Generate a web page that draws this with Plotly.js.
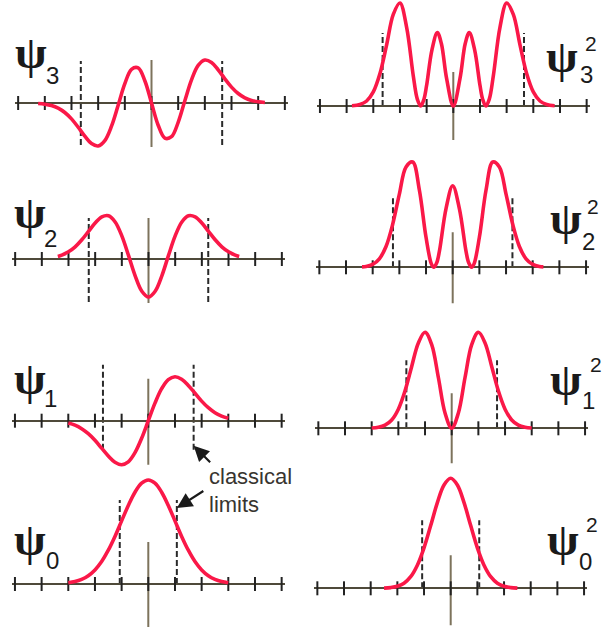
<!DOCTYPE html>
<html>
<head>
<meta charset="utf-8">
<script src="https://cdn.plot.ly/plotly-3.0.1.min.js"></script>
<style>html,body{margin:0;padding:0;background:#fff;}#chart{width:602px;height:632px;}</style>
</head>
<body>
<div id="chart"></div>
<script>
// ---------------- DATA ----------------
const TICKS = [-5, -4, -3, -2, -1, 0, 1, 2, 3, 4, 5];
const CLASSICAL_LIMITS = [1.07, 1.7, 2.24, 2.65]; // n = 0,1,2,3

const X_PSI0 = [-3,-2.75,-2.5,-2.25,-2,-1.75,-1.5,-1.25,-1,-0.75,-0.5,-0.25,0,0.25,0.5,0.75,1,1.25,1.5,1.75,2,2.25,2.5,2.75,3];
const PSI0 = [0.012,0.024,0.046,0.083,0.141,0.225,0.338,0.476,0.631,0.785,0.918,1.008,1.04,1.008,0.918,0.785,0.631,0.476,0.338,0.225,0.141,0.083,0.046,0.024,0.012];

const X_PSI1 = [-3,-2.75,-2.5,-2.25,-2,-1.75,-1.5,-1.25,-1,-0.75,-0.5,-0.25,0,0.25,0.5,0.75,1,1.25,1.5,1.75,2,2.25,2.5,2.75,3];
const PSI1 = [-0.024,-0.045,-0.080,-0.130,-0.196,-0.275,-0.353,-0.415,-0.440,-0.411,-0.320,-0.176,0,0.176,0.320,0.411,0.440,0.415,0.353,0.275,0.196,0.130,0.080,0.045,0.024];

const X_PSI2 = [-3.4,-3.25,-3,-2.75,-2.5,-2.25,-2,-1.75,-1.5,-1.25,-1,-0.75,-0.5,-0.25,0,0.25,0.5,0.75,1,1.25,1.5,1.75,2,2.25,2.5,2.75,3,3.25,3.4];
const PSI2 = [0.026,0.039,0.072,0.122,0.192,0.276,0.360,0.421,0.432,0.370,0.231,0.036,-0.168,-0.322,-0.380,-0.322,-0.168,0.036,0.231,0.370,0.432,0.421,0.360,0.276,0.192,0.122,0.072,0.039,0.026];

const X_PSI3 = [-4.25,-4,-3.75,-3.5,-3.25,-3,-2.75,-2.5,-2.25,-2,-1.75,-1.5,-1.25,-1,-0.75,-0.5,-0.25,0,0.25,0.5,0.75,1,1.25,1.5,1.75,2,2.25,2.5,2.75,3,3.25,3.5,3.75,4,4.25];
const PSI3 = [-0.005,-0.012,-0.026,-0.052,-0.095,-0.159,-0.242,-0.332,-0.406,-0.430,-0.376,-0.232,-0.023,0.193,0.337,0.351,0.222,0,-0.222,-0.351,-0.337,-0.193,0.023,0.232,0.376,0.430,0.406,0.332,0.242,0.159,0.095,0.052,0.026,0.012,0.005];

const X_PSI0SQ = [-2.5,-2.25,-2,-1.75,-1.5,-1.25,-1,-0.75,-0.5,-0.25,0,0.25,0.5,0.75,1,1.25,1.5,1.75,2,2.25,2.5];
const PSI0SQ = [0.002,0.007,0.020,0.051,0.116,0.231,0.405,0.627,0.857,1.033,1.10,1.033,0.857,0.627,0.405,0.231,0.116,0.051,0.020,0.007,0.002];

const X_PSI1SQ = [-3,-2.75,-2.5,-2.25,-2,-1.75,-1.5,-1.25,-1,-0.75,-0.5,-0.25,0,0.25,0.5,0.75,1,1.25,1.5,1.75,2,2.25,2.5,2.75,3];
const PSI1SQ = [0.003,0.010,0.031,0.083,0.191,0.374,0.619,0.854,0.960,0.836,0.508,0.153,0,0.153,0.508,0.836,0.960,0.854,0.619,0.374,0.191,0.083,0.031,0.010,0.003];

const X_PSI2SQ = [-3.4,-3.25,-3,-2.75,-2.5,-2.25,-2,-1.75,-1.5,-1.25,-1,-0.8,-0.71,-0.6,-0.5,-0.25,0,0.25,0.5,0.6,0.71,0.8,1,1.25,1.5,1.75,2,2.25,2.5,2.75,3,3.25,3.4];
const PSI2SQ = [0.004,0.008,0.029,0.085,0.208,0.430,0.732,1.004,1.053,0.773,0.300,0.034,0,0.045,0.159,0.587,0.816,0.587,0.159,0.045,0,0.034,0.300,0.773,1.053,1.004,0.732,0.430,0.208,0.085,0.029,0.008,0.004];

const X_PSI3SQ = [-3.8,-3.5,-3.25,-3,-2.75,-2.5,-2.25,-2,-1.75,-1.5,-1.35,-1.22,-1.1,-1,-0.8,-0.6,-0.45,-0.25,0,0.25,0.45,0.6,0.8,1,1.1,1.22,1.35,1.5,1.75,2,2.25,2.5,2.75,3,3.25,3.5,3.8];
const PSI3SQ = [0.003,0.015,0.050,0.141,0.325,0.612,0.916,1.030,0.787,0.300,0.069,0,0.068,0.207,0.562,0.734,0.627,0.273,0,0.273,0.627,0.734,0.562,0.207,0.068,0,0.069,0.300,0.787,1.030,0.916,0.612,0.325,0.141,0.050,0.015,0.003];

const SUB_LABELS = ['0', '1', '2', '3'];
const SUP_LABEL = '2';
const NOTE_LINES = ['classical', 'limits'];

// ---------------- LAYOUT / STYLE ----------------
const W = 602, H = 632, XS = 26.67, YS = 100;
const RED = '#fa1848', AXIS = '#4f4a3a', VLINE = '#7d735c', TICK = '#222222', DASH = '#2a2a2a';

// panel geometry (pixel centre of x=0, pixel row of y=0)
const panels = [
  {n:3, sq:false, x:X_PSI3,   y:PSI3,   cx:151.5, ay:103,   yr:[-0.47,0.47], vl:[-0.44,0.43], dl:[-0.42,0.42]},
  {n:2, sq:false, x:X_PSI2,   y:PSI2,   cx:148.5, ay:259,   yr:[-0.47,0.47], vl:[-0.44,0.41], dl:[-0.43,0.41]},
  {n:1, sq:false, x:X_PSI1,   y:PSI1,   cx:148.3, ay:420.7, yr:[-0.47,0.60], vl:[-0.44,0.42], dl:[-0.29,0.56]},
  {n:0, sq:false, x:X_PSI0,   y:PSI0,   cx:148.3, ay:584,   yr:[-0.46,1.08], vl:[-0.43,0.42], dl:[0,0.84]},
  {n:3, sq:true,  x:X_PSI3SQ, y:PSI3SQ, cx:453.3, ay:106,   yr:[-0.38,1.06], vl:[-0.34,0.34], dl:[0,0.73]},
  {n:2, sq:true,  x:X_PSI2SQ, y:PSI2SQ, cx:452.7, ay:267.3, yr:[-0.38,1.09], vl:[-0.36,0.35], dl:[0,0.70]},
  {n:1, sq:true,  x:X_PSI1SQ, y:PSI1SQ, cx:451.7, ay:428.3, yr:[-0.38,1.00], vl:[-0.35,0.35], dl:[0,0.68]},
  {n:0, sq:true,  x:X_PSI0SQ, y:PSI0SQ, cx:450.7, ay:588.3, yr:[-0.40,1.13], vl:[-0.37,0.33], dl:[0,0.68]}
];

// label positions (pixels)
const labelPos = [
  {psi:[31,52],  sub:[53,76]},
  {psi:[30,212], sub:[50,238]},
  {psi:[30,378], sub:[50,398]},
  {psi:[30,539], sub:[52,560]},
  {psi:[562,56], sub:[586,75], sup:[591,43]},
  {psi:[566,218],sub:[588,241],sup:[593,207]},
  {psi:[566,379],sub:[588,400],sup:[596,364]},
  {psi:[563,539],sub:[585,561],sup:[592,524]}
];

const traces = [], shapes = [], annotations = [];
const layout = {
  width: W, height: H, margin: {l:0, r:0, t:0, b:0},
  paper_bgcolor: '#ffffff', plot_bgcolor: 'rgba(0,0,0,0)',
  showlegend: false, shapes: shapes, annotations: annotations
};
const px = v => v / W, py = v => 1 - v / H;

panels.forEach((p, i) => {
  const k = i + 1;
  const xa = 'x' + (k === 1 ? '' : k), ya = 'y' + (k === 1 ? '' : k);
  const xname = 'xaxis' + (k === 1 ? '' : k), yname = 'yaxis' + (k === 1 ? '' : k);
  const half = 5.12;
  layout[xname] = {
    domain: [px(p.cx - half * XS), px(p.cx + half * XS)], range: [-half, half],
    anchor: ya, showgrid: false, zeroline: false, showline: false, showticklabels: false, ticks: '', fixedrange: true
  };
  layout[yname] = {
    domain: [py(p.ay - p.yr[0] * YS), py(p.ay - p.yr[1] * YS)], range: p.yr,
    anchor: xa, showgrid: false, zeroline: true, zerolinecolor: AXIS, zerolinewidth: 2,
    showline: false, showticklabels: false, ticks: '', fixedrange: true
  };
  // vertical axis at x = 0
  shapes.push({type:'line', xref:xa, yref:ya, x0:0, x1:0, y0:p.vl[0], y1:p.vl[1],
               line:{color:VLINE, width:2}, layer:'below'});
  // classical limits
  const L = CLASSICAL_LIMITS[p.n];
  [-L, L].forEach(xv => shapes.push({type:'line', xref:xa, yref:ya, x0:xv, x1:xv, y0:p.dl[0], y1:p.dl[1],
               line:{color:DASH, width:2, dash:'6px,3px'}, layer:'below'}));
  // tick marks
  traces.push({type:'scatter', mode:'markers', x:TICKS, y:TICKS.map(() => 0), xaxis:xa, yaxis:ya,
               marker:{symbol:'line-ns', size:10, line:{width:2, color:TICK}}, hoverinfo:'skip', cliponaxis:false});
  // curve
  traces.push({type:'scatter', mode:'lines', x:p.x, y:p.y, xaxis:xa, yaxis:ya,
               line:{color:RED, width:3.6, shape:'spline', smoothing:1}, hoverinfo:'skip'});

  // labels
  const lp = labelPos[i];
  annotations.push({xref:'paper', yref:'paper', x:px(lp.psi[0]), y:py(lp.psi[1]), xanchor:'center', yanchor:'middle',
    text:'<b>ψ</b>', showarrow:false, font:{family:'Liberation Serif, DejaVu Serif, serif', size:46, color:'#1a1a1a'}});
  annotations.push({xref:'paper', yref:'paper', x:px(lp.sub[0]), y:py(lp.sub[1]), xanchor:'center', yanchor:'middle',
    text:SUB_LABELS[p.n], showarrow:false, font:{family:'Liberation Sans, Arial, sans-serif', size:24, color:'#1a1a1a'}});
  if (lp.sup) annotations.push({xref:'paper', yref:'paper', x:px(lp.sup[0]), y:py(lp.sup[1]), xanchor:'center', yanchor:'middle',
    text:SUP_LABEL, showarrow:false, font:{family:'Liberation Sans, Arial, sans-serif', size:21, color:'#1a1a1a'}});
});

// "classical limits" note
annotations.push({xref:'paper', yref:'paper', x:px(207), y:py(476), xanchor:'left', yanchor:'middle',
  text:NOTE_LINES[0], showarrow:false, font:{family:'Liberation Sans, Arial, sans-serif', size:22, color:'#383530'}});
annotations.push({xref:'paper', yref:'paper', x:px(207), y:py(504), xanchor:'left', yanchor:'middle',
  text:NOTE_LINES[1], showarrow:false, font:{family:'Liberation Sans, Arial, sans-serif', size:22, color:'#383530'}});
// arrows to the classical-limit lines of psi1 and psi0
annotations.push({xref:'x3', yref:'y3', x:CLASSICAL_LIMITS[1], y:-0.25, text:'', showarrow:true,
  ax:18, ay:18, axref:'pixel', ayref:'pixel', arrowhead:2, arrowsize:1.4, arrowwidth:2.2, arrowcolor:'#1a1a1a', standoff:0});
annotations.push({xref:'x4', yref:'y4', x:CLASSICAL_LIMITS[0], y:0.76, text:'', showarrow:true,
  ax:28, ay:-18, axref:'pixel', ayref:'pixel', arrowhead:2, arrowsize:1.4, arrowwidth:2.2, arrowcolor:'#1a1a1a', standoff:0});

Plotly.newPlot('chart', traces, layout, {staticPlot:true, displayModeBar:false});
</script>
</body>
</html>
